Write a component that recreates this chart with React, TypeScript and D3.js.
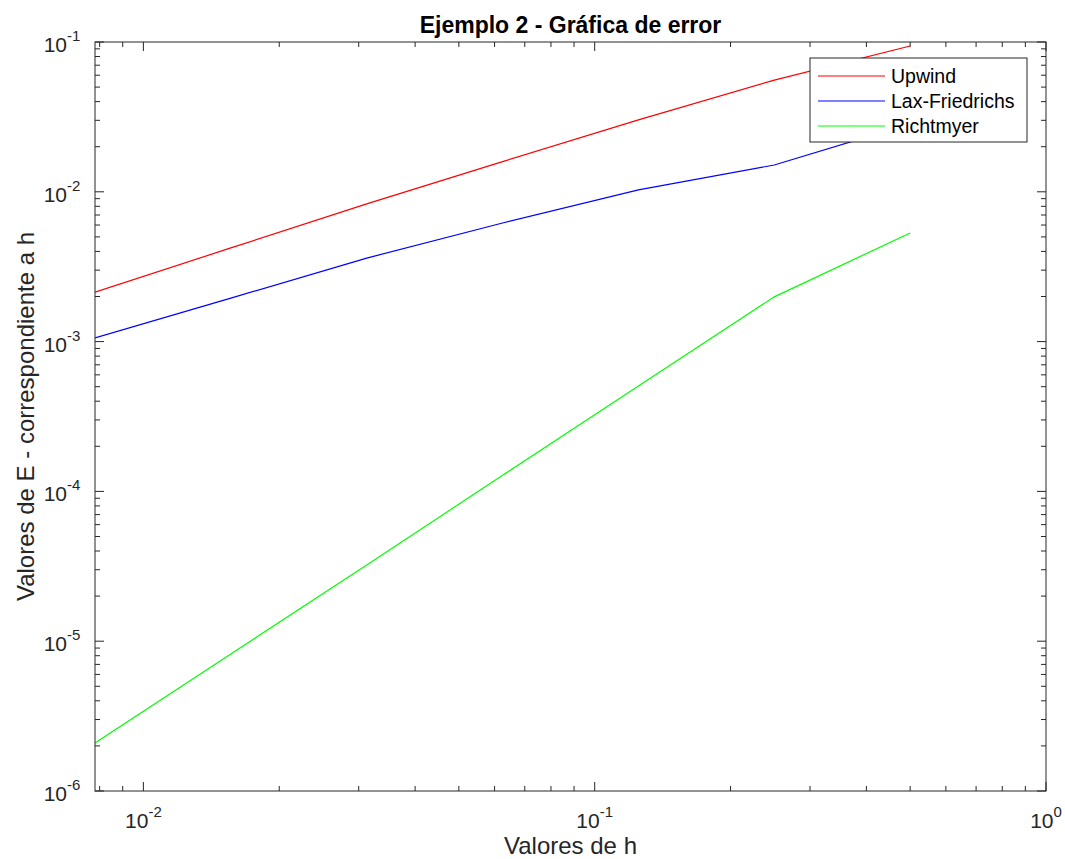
import React from "react";
import * as d3 from "d3";

const hValues = [0.0078125, 0.015625, 0.03125, 0.0625, 0.125, 0.25, 0.5];
const upwind = [2.14e-3, 4.22e-3, 8.3e-3, 1.59e-2, 3.02e-2, 5.57e-2, 9.4e-2];
const laxFriedrichs = [1.06e-3, 1.95e-3, 3.61e-3, 6.19e-3, 1.03e-2, 1.51e-2, 2.84e-2];
const richtmyer = [2.09e-6, 8.22e-6, 3.23e-5, 1.28e-4, 5.06e-4, 1.99e-3, 5.31e-3];

const seriesNames = ["Upwind", "Lax-Friedrichs", "Richtmyer"];
const seriesColors = ["#ff0000", "#0000ff", "#00ff00"];
const xMajorExps = [-2, -1, 0];
const yMajorExps = [-6, -5, -4, -3, -2, -1];

const W = 1065;
const H = 859;
const left = 95;
const right = 1046;
const top = 42;
const bottom = 791;
const FONT = "'Liberation Sans', Arial, Helvetica, sans-serif";

export default function App() {
  const x = d3.scaleLog().domain([0.0078125, 1]).range([left, right]);
  const y = d3.scaleLog().domain([1e-6, 1e-1]).range([bottom, top]);
  const line = d3
    .line<[number, number]>()
    .x((d) => x(d[0]))
    .y((d) => y(d[1]));
  const allSeries = [upwind, laxFriedrichs, richtmyer];

  const xMinor: number[] = [];
  for (let e = -3; e < 0; e++) {
    for (let m = 2; m <= 9; m++) {
      const v = m * Math.pow(10, e);
      if (v >= 0.0078125 && v <= 1) xMinor.push(v);
    }
  }
  const yMinor: number[] = [];
  for (let e = -6; e < -1; e++) {
    for (let m = 2; m <= 9; m++) yMinor.push(m * Math.pow(10, e));
  }
  const majL = 9;
  const minL = 5;
  const tickColor = "#262626";

  const legX = 810;
  const legY = 58;
  const legW = 217;
  const legH = 84;

  return (
    <svg
      width={W}
      height={H}
      style={{ position: "absolute", left: 0, top: 0, background: "#fff" }}
      fontFamily={FONT}
    >
      <rect x={0} y={0} width={W} height={H} fill="#fff" />
      <defs>
        <clipPath id="clip">
          <rect x={left} y={top} width={right - left} height={bottom - top} />
        </clipPath>
      </defs>
      {/* data lines */}
      <g clipPath="url(#clip)">
        {allSeries.map((s, i) => (
          <path
            key={i}
            d={line(hValues.map((h, j) => [h, s[j]] as [number, number])) || ""}
            fill="none"
            stroke={seriesColors[i]}
            strokeWidth={1.2}
          />
        ))}
      </g>
      {/* axes box */}
      <rect
        x={left}
        y={top}
        width={right - left}
        height={bottom - top}
        fill="none"
        stroke={tickColor}
        strokeWidth={1}
      />
      {/* x ticks */}
      {xMajorExps.map((e) => {
        const px = x(Math.pow(10, e));
        return (
          <g key={"xm" + e}>
            <line x1={px} x2={px} y1={bottom} y2={bottom - majL} stroke={tickColor} />
            <line x1={px} x2={px} y1={top} y2={top + majL} stroke={tickColor} />
            <text x={px} y={828} textAnchor="middle" fontSize={21} fill="#262626">
              10
              <tspan dy={-11} fontSize={15}>
                {e === 0 ? "0" : String(e)}
              </tspan>
            </text>
          </g>
        );
      })}
      {xMinor.map((v, i) => {
        const px = x(v);
        return (
          <g key={"xn" + i}>
            <line x1={px} x2={px} y1={bottom} y2={bottom - minL} stroke={tickColor} />
            <line x1={px} x2={px} y1={top} y2={top + minL} stroke={tickColor} />
          </g>
        );
      })}
      {/* y ticks */}
      {yMajorExps.map((e) => {
        const py = y(Math.pow(10, e));
        return (
          <g key={"ym" + e}>
            <line x1={left} x2={left + majL} y1={py} y2={py} stroke={tickColor} />
            <line x1={right} x2={right - majL} y1={py} y2={py} stroke={tickColor} />
            <text x={67} y={py + 10} textAnchor="end" fontSize={21} fill="#262626">
              10
            </text>
            <text x={67} y={py - 1} textAnchor="start" fontSize={15} fill="#262626">
              {String(e)}
            </text>
          </g>
        );
      })}
      {yMinor.map((v, i) => {
        const py = y(v);
        return (
          <g key={"yn" + i}>
            <line x1={left} x2={left + minL} y1={py} y2={py} stroke={tickColor} />
            <line x1={right} x2={right - minL} y1={py} y2={py} stroke={tickColor} />
          </g>
        );
      })}
      {/* title */}
      <text
        x={(left + right) / 2}
        y={33}
        textAnchor="middle"
        fontSize={23}
        fontWeight="bold"
        fill="#000"
      >
        Ejemplo 2 - Gráfica de error
      </text>
      {/* axis labels */}
      <text x={(left + right) / 2} y={854} textAnchor="middle" fontSize={24} fill="#262626">
        Valores de h
      </text>
      <text
        transform={`translate(34, ${(top + bottom) / 2}) rotate(-90)`}
        textAnchor="middle"
        fontSize={24}
        fill="#262626"
      >
        Valores de E - correspondiente a h
      </text>
      {/* legend */}
      <rect x={legX} y={legY} width={legW} height={legH} fill="#fff" stroke="#262626" strokeWidth={1} />
      {seriesNames.map((name, i) => {
        const cy = 76 + i * 25;
        return (
          <g key={name}>
            <line x1={818} x2={885} y1={cy} y2={cy} stroke={seriesColors[i]} strokeWidth={1.2} />
            <text x={891} y={cy + 7} fontSize={19.5} fill="#000">
              {name}
            </text>
          </g>
        );
      })}
    </svg>
  );
}
